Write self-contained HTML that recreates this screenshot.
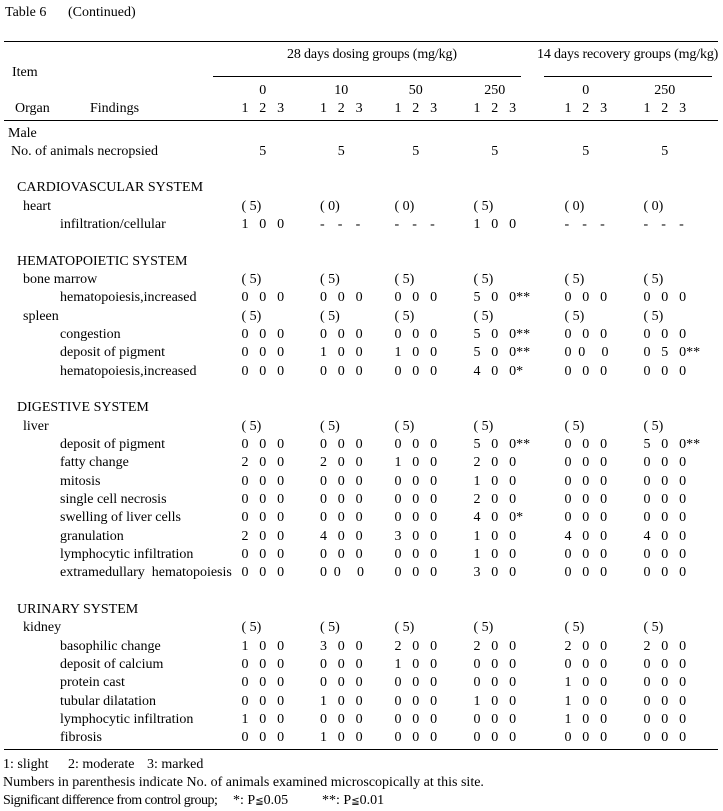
<!DOCTYPE html>
<html><head><meta charset="utf-8">
<style>
body{margin:0;width:723px;height:811px;position:relative;background:#fff;font-family:"Liberation Serif","Noto Serif CJK SC",serif;font-size:14px;color:#000;overflow:hidden}
.a{position:absolute;white-space:nowrap;line-height:18px}
.hl{position:absolute;height:1px;background:#000}
#b{position:absolute;left:0;top:124.5px;width:723px}
.r{position:relative;height:18.33px;line-height:18px;white-space:nowrap}
.r>span{position:absolute;top:0;white-space:nowrap}
i{display:inline-block;width:17.8px;font-style:normal;white-space:nowrap}
.g1{left:241.5px}.g2{left:320px}.g3{left:394.5px}.g4{left:473.5px}.g5{left:564.5px}.g6{left:643.5px}
.L0{left:8px}.L1{left:11px}.S{left:17px}.O{left:23px}.F{left:60px}
.n{position:absolute;top:82px;width:40px;text-align:center;line-height:18px}
.le{font-family:"DejaVu Sans",sans-serif;font-size:10px}
</style></head><body>

<div class="a" style="left:5px;top:4px">Table 6</div>
<div class="a" style="left:68px;top:4px">(Continued)</div>
<div class="hl" style="left:4px;top:41px;width:714px"></div>
<div class="a" style="left:287px;top:46px;letter-spacing:-0.15px">28 days dosing groups (mg/kg)</div>
<div class="a" style="left:537px;top:46px;letter-spacing:-0.15px">14 days recovery groups (mg/kg)</div>
<div class="a" style="left:12px;top:64px">Item</div>
<div class="hl" style="left:213px;top:76px;width:308px"></div>
<div class="hl" style="left:544px;top:76px;width:168px"></div>
<div class="n" style="left:242.8px">0</div>
<div class="n" style="left:321.3px">10</div>
<div class="n" style="left:395.8px">50</div>
<div class="n" style="left:474.8px">250</div>
<div class="n" style="left:565.8px">0</div>
<div class="n" style="left:644.8px">250</div>
<div class="a" style="left:15px;top:100px">Organ</div>
<div class="a" style="left:90px;top:100px">Findings</div>
<div class="a g1" style="top:100px"><i>1</i><i>2</i><i>3</i></div>
<div class="a g2" style="top:100px"><i>1</i><i>2</i><i>3</i></div>
<div class="a g3" style="top:100px"><i>1</i><i>2</i><i>3</i></div>
<div class="a g4" style="top:100px"><i>1</i><i>2</i><i>3</i></div>
<div class="a g5" style="top:100px"><i>1</i><i>2</i><i>3</i></div>
<div class="a g6" style="top:100px"><i>1</i><i>2</i><i>3</i></div>
<div class="hl" style="left:4px;top:120px;width:714px"></div>

<div id="b">
<div class="r"><span class="L0">Male</span></div>
<div class="r"><span class="L1">No. of animals necropsied</span><span class="g1"><i></i><i>5</i></span><span class="g2"><i></i><i>5</i></span><span class="g3"><i></i><i>5</i></span><span class="g4"><i></i><i>5</i></span><span class="g5"><i></i><i>5</i></span><span class="g6"><i></i><i>5</i></span></div>
<div class="r"></div>
<div class="r"><span class="S">CARDIOVASCULAR SYSTEM</span></div>
<div class="r"><span class="O">heart</span><span class="g1">( 5)</span><span class="g2">( 0)</span><span class="g3">( 0)</span><span class="g4">( 5)</span><span class="g5">( 0)</span><span class="g6">( 0)</span></div>
<div class="r"><span class="F">infiltration/cellular</span><span class="g1"><i>1</i><i>0</i><i>0</i></span><span class="g2"><i>-</i><i>-</i><i>-</i></span><span class="g3"><i>-</i><i>-</i><i>-</i></span><span class="g4"><i>1</i><i>0</i><i>0</i></span><span class="g5"><i>-</i><i>-</i><i>-</i></span><span class="g6"><i>-</i><i>-</i><i>-</i></span></div>
<div class="r"></div>
<div class="r"><span class="S">HEMATOPOIETIC SYSTEM</span></div>
<div class="r"><span class="O">bone marrow</span><span class="g1">( 5)</span><span class="g2">( 5)</span><span class="g3">( 5)</span><span class="g4">( 5)</span><span class="g5">( 5)</span><span class="g6">( 5)</span></div>
<div class="r"><span class="F">hematopoiesis,increased</span><span class="g1"><i>0</i><i>0</i><i>0</i></span><span class="g2"><i>0</i><i>0</i><i>0</i></span><span class="g3"><i>0</i><i>0</i><i>0</i></span><span class="g4"><i>5</i><i>0</i><i>0**</i></span><span class="g5"><i>0</i><i>0</i><i>0</i></span><span class="g6"><i>0</i><i>0</i><i>0</i></span></div>
<div class="r"><span class="O">spleen</span><span class="g1">( 5)</span><span class="g2">( 5)</span><span class="g3">( 5)</span><span class="g4">( 5)</span><span class="g5">( 5)</span><span class="g6">( 5)</span></div>
<div class="r"><span class="F">congestion</span><span class="g1"><i>0</i><i>0</i><i>0</i></span><span class="g2"><i>0</i><i>0</i><i>0</i></span><span class="g3"><i>0</i><i>0</i><i>0</i></span><span class="g4"><i>5</i><i>0</i><i>0**</i></span><span class="g5"><i>0</i><i>0</i><i>0</i></span><span class="g6"><i>0</i><i>0</i><i>0</i></span></div>
<div class="r"><span class="F">deposit of pigment</span><span class="g1"><i>0</i><i>0</i><i>0</i></span><span class="g2"><i>1</i><i>0</i><i>0</i></span><span class="g3"><i>1</i><i>0</i><i>0</i></span><span class="g4"><i>5</i><i>0</i><i>0**</i></span><span class="g5"><i style="width:13.7px">0</i><i style="width:23.3px">0</i><i>0</i></span><span class="g6"><i>0</i><i>5</i><i>0**</i></span></div>
<div class="r"><span class="F">hematopoiesis,increased</span><span class="g1"><i>0</i><i>0</i><i>0</i></span><span class="g2"><i>0</i><i>0</i><i>0</i></span><span class="g3"><i>0</i><i>0</i><i>0</i></span><span class="g4"><i>4</i><i>0</i><i>0*</i></span><span class="g5"><i>0</i><i>0</i><i>0</i></span><span class="g6"><i>0</i><i>0</i><i>0</i></span></div>
<div class="r"></div>
<div class="r"><span class="S">DIGESTIVE SYSTEM</span></div>
<div class="r"><span class="O">liver</span><span class="g1">( 5)</span><span class="g2">( 5)</span><span class="g3">( 5)</span><span class="g4">( 5)</span><span class="g5">( 5)</span><span class="g6">( 5)</span></div>
<div class="r"><span class="F">deposit of pigment</span><span class="g1"><i>0</i><i>0</i><i>0</i></span><span class="g2"><i>0</i><i>0</i><i>0</i></span><span class="g3"><i>0</i><i>0</i><i>0</i></span><span class="g4"><i>5</i><i>0</i><i>0**</i></span><span class="g5"><i>0</i><i>0</i><i>0</i></span><span class="g6"><i>5</i><i>0</i><i>0**</i></span></div>
<div class="r"><span class="F">fatty change</span><span class="g1"><i>2</i><i>0</i><i>0</i></span><span class="g2"><i>2</i><i>0</i><i>0</i></span><span class="g3"><i>1</i><i>0</i><i>0</i></span><span class="g4"><i>2</i><i>0</i><i>0</i></span><span class="g5"><i>0</i><i>0</i><i>0</i></span><span class="g6"><i>0</i><i>0</i><i>0</i></span></div>
<div class="r"><span class="F">mitosis</span><span class="g1"><i>0</i><i>0</i><i>0</i></span><span class="g2"><i>0</i><i>0</i><i>0</i></span><span class="g3"><i>0</i><i>0</i><i>0</i></span><span class="g4"><i>1</i><i>0</i><i>0</i></span><span class="g5"><i>0</i><i>0</i><i>0</i></span><span class="g6"><i>0</i><i>0</i><i>0</i></span></div>
<div class="r"><span class="F">single cell necrosis</span><span class="g1"><i>0</i><i>0</i><i>0</i></span><span class="g2"><i>0</i><i>0</i><i>0</i></span><span class="g3"><i>0</i><i>0</i><i>0</i></span><span class="g4"><i>2</i><i>0</i><i>0</i></span><span class="g5"><i>0</i><i>0</i><i>0</i></span><span class="g6"><i>0</i><i>0</i><i>0</i></span></div>
<div class="r"><span class="F">swelling of liver cells</span><span class="g1"><i>0</i><i>0</i><i>0</i></span><span class="g2"><i>0</i><i>0</i><i>0</i></span><span class="g3"><i>0</i><i>0</i><i>0</i></span><span class="g4"><i>4</i><i>0</i><i>0*</i></span><span class="g5"><i>0</i><i>0</i><i>0</i></span><span class="g6"><i>0</i><i>0</i><i>0</i></span></div>
<div class="r"><span class="F">granulation</span><span class="g1"><i>2</i><i>0</i><i>0</i></span><span class="g2"><i>4</i><i>0</i><i>0</i></span><span class="g3"><i>3</i><i>0</i><i>0</i></span><span class="g4"><i>1</i><i>0</i><i>0</i></span><span class="g5"><i>4</i><i>0</i><i>0</i></span><span class="g6"><i>4</i><i>0</i><i>0</i></span></div>
<div class="r"><span class="F">lymphocytic infiltration</span><span class="g1"><i>0</i><i>0</i><i>0</i></span><span class="g2"><i>0</i><i>0</i><i>0</i></span><span class="g3"><i>0</i><i>0</i><i>0</i></span><span class="g4"><i>1</i><i>0</i><i>0</i></span><span class="g5"><i>0</i><i>0</i><i>0</i></span><span class="g6"><i>0</i><i>0</i><i>0</i></span></div>
<div class="r"><span class="F">extramedullary&nbsp; hematopoiesis</span><span class="g1"><i>0</i><i>0</i><i>0</i></span><span class="g2"><i style="width:13.7px">0</i><i style="width:23.3px">0</i><i>0</i></span><span class="g3"><i>0</i><i>0</i><i>0</i></span><span class="g4"><i>3</i><i>0</i><i>0</i></span><span class="g5"><i>0</i><i>0</i><i>0</i></span><span class="g6"><i>0</i><i>0</i><i>0</i></span></div>
<div class="r"></div>
<div class="r"><span class="S">URINARY SYSTEM</span></div>
<div class="r"><span class="O">kidney</span><span class="g1">( 5)</span><span class="g2">( 5)</span><span class="g3">( 5)</span><span class="g4">( 5)</span><span class="g5">( 5)</span><span class="g6">( 5)</span></div>
<div class="r"><span class="F">basophilic change</span><span class="g1"><i>1</i><i>0</i><i>0</i></span><span class="g2"><i>3</i><i>0</i><i>0</i></span><span class="g3"><i>2</i><i>0</i><i>0</i></span><span class="g4"><i>2</i><i>0</i><i>0</i></span><span class="g5"><i>2</i><i>0</i><i>0</i></span><span class="g6"><i>2</i><i>0</i><i>0</i></span></div>
<div class="r"><span class="F">deposit of calcium</span><span class="g1"><i>0</i><i>0</i><i>0</i></span><span class="g2"><i>0</i><i>0</i><i>0</i></span><span class="g3"><i>1</i><i>0</i><i>0</i></span><span class="g4"><i>0</i><i>0</i><i>0</i></span><span class="g5"><i>0</i><i>0</i><i>0</i></span><span class="g6"><i>0</i><i>0</i><i>0</i></span></div>
<div class="r"><span class="F">protein cast</span><span class="g1"><i>0</i><i>0</i><i>0</i></span><span class="g2"><i>0</i><i>0</i><i>0</i></span><span class="g3"><i>0</i><i>0</i><i>0</i></span><span class="g4"><i>0</i><i>0</i><i>0</i></span><span class="g5"><i>1</i><i>0</i><i>0</i></span><span class="g6"><i>0</i><i>0</i><i>0</i></span></div>
<div class="r"><span class="F">tubular dilatation</span><span class="g1"><i>0</i><i>0</i><i>0</i></span><span class="g2"><i>1</i><i>0</i><i>0</i></span><span class="g3"><i>0</i><i>0</i><i>0</i></span><span class="g4"><i>1</i><i>0</i><i>0</i></span><span class="g5"><i>1</i><i>0</i><i>0</i></span><span class="g6"><i>0</i><i>0</i><i>0</i></span></div>
<div class="r"><span class="F">lymphocytic infiltration</span><span class="g1"><i>1</i><i>0</i><i>0</i></span><span class="g2"><i>0</i><i>0</i><i>0</i></span><span class="g3"><i>0</i><i>0</i><i>0</i></span><span class="g4"><i>0</i><i>0</i><i>0</i></span><span class="g5"><i>1</i><i>0</i><i>0</i></span><span class="g6"><i>0</i><i>0</i><i>0</i></span></div>
<div class="r"><span class="F">fibrosis</span><span class="g1"><i>0</i><i>0</i><i>0</i></span><span class="g2"><i>1</i><i>0</i><i>0</i></span><span class="g3"><i>0</i><i>0</i><i>0</i></span><span class="g4"><i>0</i><i>0</i><i>0</i></span><span class="g5"><i>0</i><i>0</i><i>0</i></span><span class="g6"><i>0</i><i>0</i><i>0</i></span></div>
</div>

<div class="hl" style="left:4px;top:749px;width:714px"></div>
<div class="a" style="left:3px;top:756px">1: slight</div>
<div class="a" style="left:68px;top:756px">2: moderate</div>
<div class="a" style="left:147px;top:756px">3: marked</div>
<div class="a" style="left:3px;top:774px">Numbers in parenthesis indicate No. of animals examined microscopically at this site.</div>
<div class="a" style="left:3px;top:792px;letter-spacing:-0.5px">Significant difference from control group;</div>
<div class="a" style="left:233px;top:792px">*: P<span class="le">≦</span>0.05</div>
<div class="a" style="left:322px;top:792px">**: P<span class="le">≦</span>0.01</div>
</body></html>
